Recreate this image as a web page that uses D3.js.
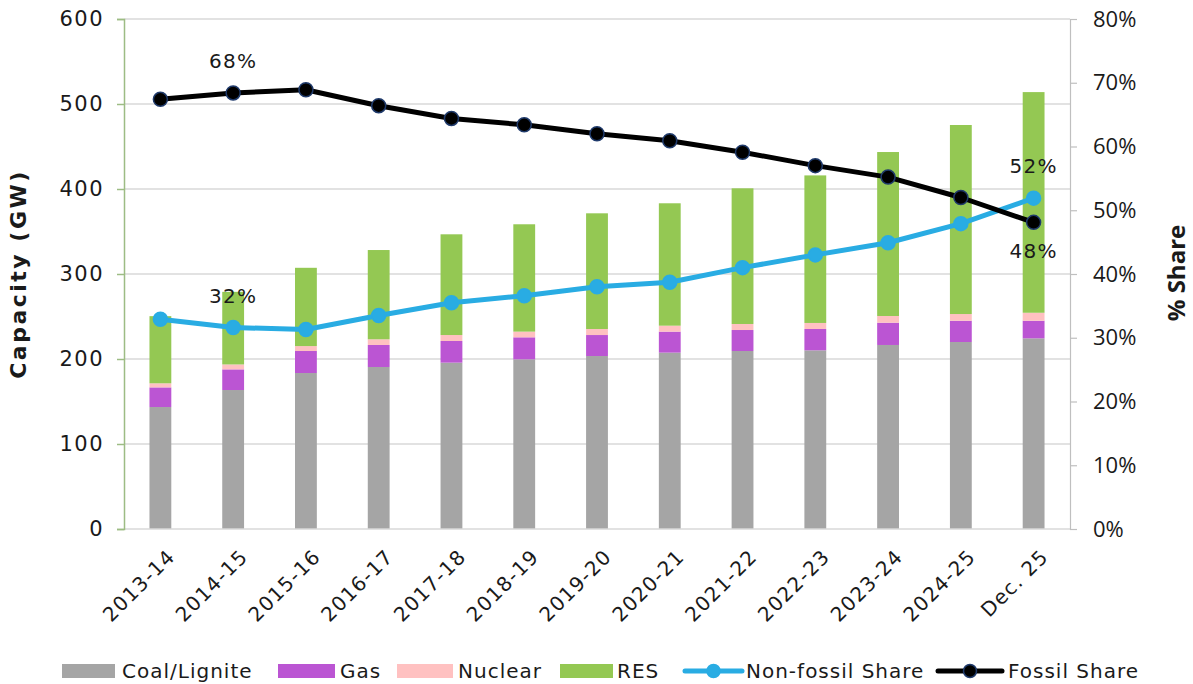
<!DOCTYPE html>
<html>
<head>
<meta charset="utf-8">
<script src="https://cdn.jsdelivr.net/npm/d3@7"></script>
<style>
  body { margin: 0; background: #fff; }
  svg { display: block; }
  .lbl { font-family: "DejaVu Sans", sans-serif; fill: #1a1a1a; }
  .pct { font-family: "Open Sans", sans-serif; fill: #1a1a1a; }
</style>
</head>
<body>
<svg id="chart" width="1193" height="684"></svg>
<script>
// Installed capacity by source (GW) and fossil / non-fossil share
const categories = ["2013-14","2014-15","2015-16","2016-17","2017-18","2018-19","2019-20",
                    "2020-21","2021-22","2022-23","2023-24","2024-25","Dec. 25"];
const coal    = [143.5,163.5,183.5,190.6,195.7,199.6,203.5,207.5,209.4,210.2,216.5,220.0,224.3];
const gas     = [23.1,24.3,25.9,25.9,25.5,25.9,24.7,24.7,24.7,25.1,26.2,25.0,20.7];
const nuclear = [4.8,5.8,5.8,6.7,7.0,6.7,7.1,7.0,7.1,7.1,7.9,7.9,9.4];
const res     = [79.0,85.4,92.1,105.0,118.5,126.3,136.1,144.0,159.6,173.6,192.9,222.4,259.6];
const nonFossilShare = [0.329,0.316,0.313,0.335,0.355,0.366,0.380,0.387,0.410,0.430,0.449,0.479,0.519];
const fossilShare    = [0.674,0.684,0.689,0.664,0.644,0.634,0.620,0.609,0.591,0.570,0.552,0.520,0.481];
const leftTicks  = [0,100,200,300,400,500,600];
const rightTicks = [0,0.1,0.2,0.3,0.4,0.5,0.6,0.7,0.8];

const seriesKeys = ["Coal/Lignite","Gas","Nuclear","RES"];
const seriesColors = {"Coal/Lignite":"#a5a5a5","Gas":"#bb55d3","Nuclear":"#ffc1c1","RES":"#94c853"};
const nonFossilColor = "#29ace3";
const fossilColor = "#000000";

const rows = categories.map((c, i) => ({
  cat: c, "Coal/Lignite": coal[i], "Gas": gas[i], "Nuclear": nuclear[i], "RES": res[i]
}));

const svg = d3.select("#chart");
const plot = {left: 124, right: 1070, top: 19, bottom: 529};

const x = d3.scaleBand().domain(categories).range([plot.left, plot.right])
  .paddingInner(0.7).paddingOuter(0.35);
const y = d3.scaleLinear().domain([0, 600]).range([plot.bottom, plot.top]);
const y2 = d3.scaleLinear().domain([0, 0.8]).range([plot.bottom, plot.top]);
const cx = d => x(d) + x.bandwidth() / 2;

// gridlines
svg.append("g").selectAll("line").data(leftTicks.filter(t => t > 0)).join("line")
  .attr("x1", plot.left).attr("x2", plot.right)
  .attr("y1", d => y(d)).attr("y2", d => y(d))
  .attr("stroke", "#d9d9d9").attr("stroke-width", 1.5);

// stacked bars
const stack = d3.stack().keys(seriesKeys)(rows);
svg.append("g").selectAll("g").data(stack).join("g")
  .attr("fill", s => seriesColors[s.key])
  .selectAll("rect").data(s => s).join("rect")
  .attr("x", d => x(d.data.cat))
  .attr("width", x.bandwidth())
  .attr("y", d => y(d[1]))
  .attr("height", d => y(d[0]) - y(d[1]));

// bottom axis line
svg.append("line").attr("x1", plot.left).attr("x2", plot.right)
  .attr("y1", plot.bottom).attr("y2", plot.bottom)
  .attr("stroke", "#d9d9d9").attr("stroke-width", 1.5);

// left axis
const leftAxis = svg.append("g").attr("transform", `translate(${plot.left},0)`)
  .call(d3.axisLeft(y).tickValues(leftTicks).tickSize(7).tickPadding(13));
leftAxis.select(".domain").attr("stroke", "#9dbc84").attr("stroke-width", 1.5);
leftAxis.selectAll(".tick line").attr("stroke", "#9dbc84").attr("stroke-width", 1.5);
leftAxis.selectAll(".tick text").attr("class", "lbl")
  .style("font-size", "21px").style("letter-spacing", "1.5px").attr("fill", "#1a1a1a");

// right axis
const rightAxis = svg.append("g").attr("transform", `translate(${plot.right},0)`)
  .call(d3.axisRight(y2).tickValues(rightTicks).tickSize(7).tickPadding(16)
    .tickFormat(d3.format(".0%")));
rightAxis.select(".domain").attr("stroke", "#bfbfbf").attr("stroke-width", 1.2);
rightAxis.selectAll(".tick line").attr("stroke", "#bfbfbf").attr("stroke-width", 1.2);
rightAxis.selectAll(".tick text").attr("class", "pct")
  .style("font-size", "22px").attr("fill", "#1a1a1a");

// category labels
svg.append("g").selectAll("text").data(categories).join("text")
  .attr("class", "lbl")
  .attr("transform", d => `translate(${cx(d) + 6},${plot.bottom + 19}) rotate(-45)`)
  .attr("text-anchor", "end").attr("dy", "0.7em")
  .style("font-size", "20px").style("letter-spacing", "1.2px")
  .text(d => d);

// axis titles
svg.append("text").attr("class", "lbl")
  .attr("transform", `translate(26,274) rotate(-90)`)
  .attr("text-anchor", "middle")
  .style("font-size", "22px").style("font-weight", "bold").style("letter-spacing", "2.5px")
  .text("Capacity (GW)");
svg.append("text").attr("class", "pct")
  .attr("transform", `translate(1185,273) rotate(-90)`)
  .attr("text-anchor", "middle")
  .style("font-size", "24px").style("font-weight", "bold")
  .text("% Share");

// share lines
function drawShare(values, color, markerStroke) {
  const pts = categories.map((c, i) => [cx(c), y2(values[i])]);
  svg.append("path").datum(pts)
    .attr("d", d3.line())
    .attr("fill", "none").attr("stroke", color).attr("stroke-width", 5)
    .attr("stroke-linejoin", "round");
  svg.append("g").selectAll("circle").data(pts).join("circle")
    .attr("cx", d => d[0]).attr("cy", d => d[1]).attr("r", 7)
    .attr("fill", color).attr("stroke", markerStroke).attr("stroke-width", 1.5);
}
drawShare(nonFossilShare, nonFossilColor, nonFossilColor);
drawShare(fossilShare, fossilColor, "#1f3a6b");

// value labels
const fmt = d3.format(".0%");
const labels = [
  {i: 1, v: fossilShare[1], off: -32},
  {i: 1, v: nonFossilShare[1], off: -32},
  {i: 12, v: nonFossilShare[12], off: -32},
  {i: 12, v: fossilShare[12], off: 28}
];
svg.append("g").selectAll("text").data(labels).join("text")
  .attr("class", "lbl")
  .attr("x", d => cx(categories[d.i]))
  .attr("y", d => y2(d.v) + d.off)
  .attr("dy", "0.36em").attr("text-anchor", "middle")
  .style("font-size", "20px").style("letter-spacing", "1.2px")
  .text(d => fmt(d.v));

// legend
const ly = 671;
const legendItems = [
  {type: "box", key: "Coal/Lignite", x: 62, w: 53, tx: 122},
  {type: "box", key: "Gas", x: 278, w: 57, tx: 340},
  {type: "box", key: "Nuclear", x: 397, w: 56, tx: 458},
  {type: "box", key: "RES", x: 560, w: 53, tx: 617},
  {type: "line", key: "Non-fossil Share", x: 685, w: 57, tx: 746, color: nonFossilColor, ms: nonFossilColor},
  {type: "line", key: "Fossil Share", x: 938, w: 64, tx: 1008, color: fossilColor, ms: "#1f3a6b"}
];
const lg = svg.append("g");
legendItems.forEach(it => {
  if (it.type === "box") {
    lg.append("rect").attr("x", it.x).attr("y", ly - 7).attr("width", it.w).attr("height", 14)
      .attr("fill", seriesColors[it.key]);
  } else {
    lg.append("line").attr("x1", it.x).attr("x2", it.x + it.w).attr("y1", ly).attr("y2", ly)
      .attr("stroke", it.color).attr("stroke-width", 5).attr("stroke-linecap", "round");
    lg.append("circle").attr("cx", it.x + it.w / 2).attr("cy", ly).attr("r", 6.5)
      .attr("fill", it.color).attr("stroke", it.ms).attr("stroke-width", 1.5);
  }
  lg.append("text").attr("class", "lbl").attr("x", it.tx).attr("y", ly).attr("dy", "0.36em")
    .style("font-size", "20px").style("letter-spacing", "1px").text(it.key);
});
</script>
</body>
</html>
